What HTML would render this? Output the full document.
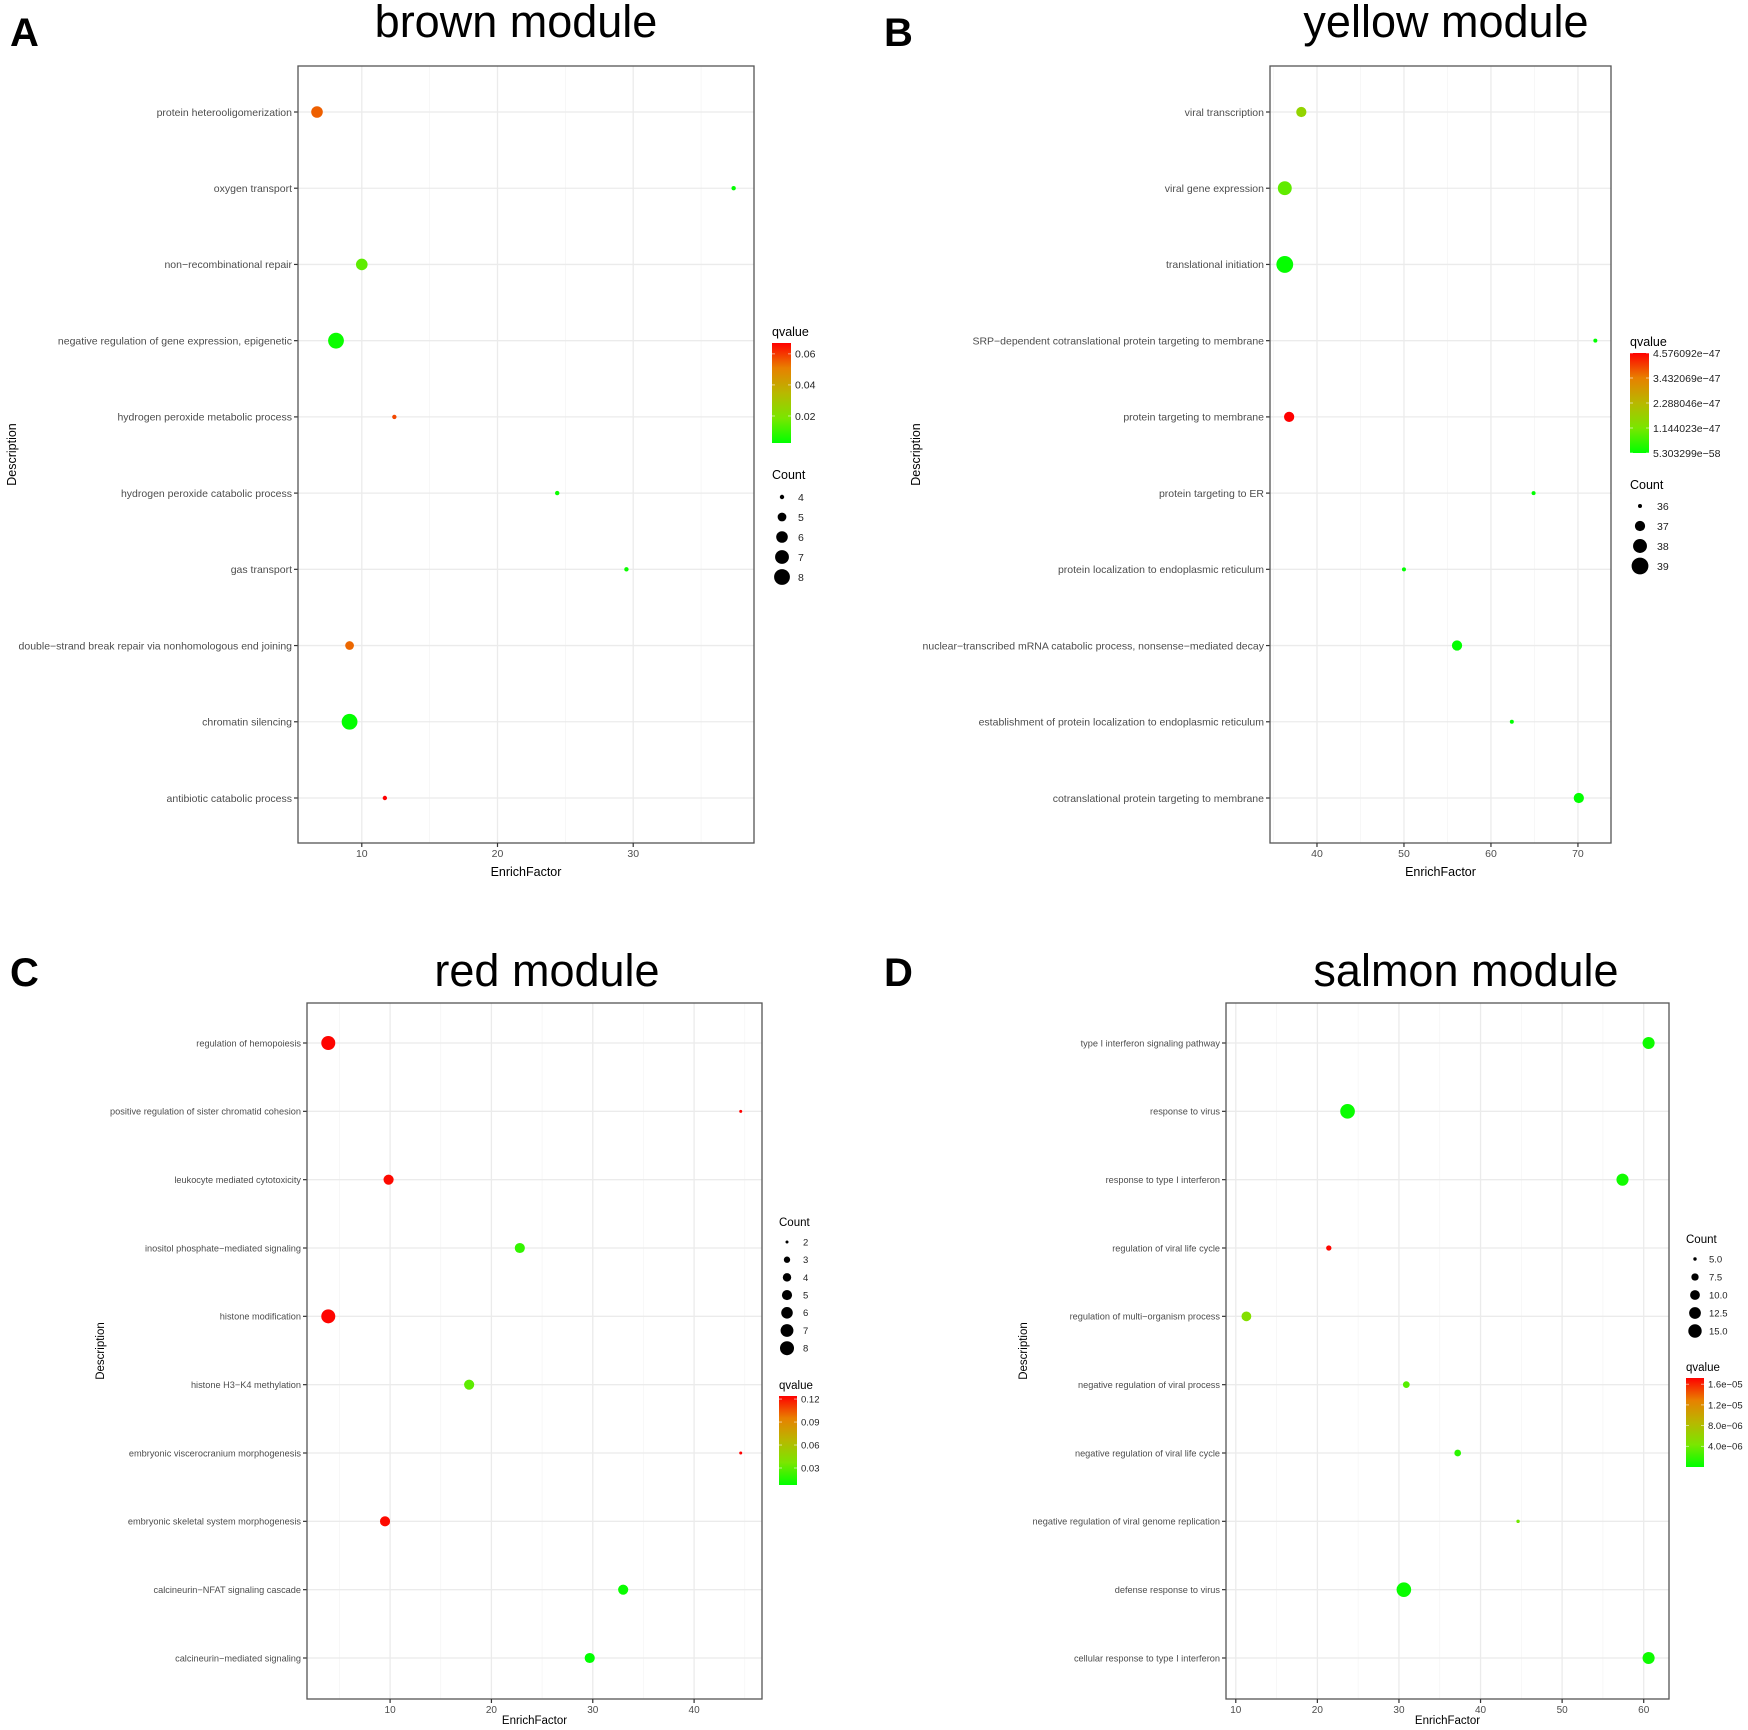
<!DOCTYPE html>
<html><head><meta charset="utf-8"><style>
html,body{margin:0;padding:0;background:#fff;}
svg{display:block;font-family:"Liberation Sans",Arial,sans-serif;}
</style></head><body>
<svg id="fig" width="1748" height="1730" viewBox="0 0 1748 1730" xmlns="http://www.w3.org/2000/svg"></svg>
<script>
// ---------- Panel A: brown module ----------
const aTerms = ["protein heterooligomerization","oxygen transport","non\u2212recombinational repair","negative regulation of gene expression, epigenetic","hydrogen peroxide metabolic process","hydrogen peroxide catabolic process","gas transport","double\u2212strand break repair via nonhomologous end joining","chromatin silencing","antibiotic catabolic process"];
const aEnrich = [6.7, 37.4, 10.0, 8.1, 12.4, 24.4, 29.5, 9.1, 9.1, 11.7];
const aCount = [6, 4, 6, 8, 4, 4, 4, 5, 8, 4];
const aQ = [0.055, 0.003, 0.015, 0.004, 0.058, 0.004, 0.004, 0.054, 0.003, 0.067];
const aXTicks = [10, 20, 30];
const aCountTicks = ["4","5","6","7","8"];
const aQTickVals = [0.06, 0.04, 0.02];
const aQTickLabels = ["0.06","0.04","0.02"];

// ---------- Panel B: yellow module ----------
const bTerms = ["viral transcription","viral gene expression","translational initiation","SRP\u2212dependent cotranslational protein targeting to membrane","protein targeting to membrane","protein targeting to ER","protein localization to endoplasmic reticulum","nuclear\u2212transcribed mRNA catabolic process, nonsense\u2212mediated decay","establishment of protein localization to endoplasmic reticulum","cotranslational protein targeting to membrane"];
const bEnrich = [38.2, 36.3, 36.3, 72.0, 36.8, 64.9, 50.0, 56.1, 62.4, 70.1];
const bCount = [37, 38, 39, 36, 37, 36, 36, 37, 36, 37];
const bQ = [1.6, 0.9, 0.05, 0.0, 4.576092, 0.0, 0.0, 0.02, 0.0, 0.02]; // x 1e-47
const bXTicks = [40, 50, 60, 70];
const bCountTicks = ["36","37","38","39"];
const bQTickVals = [4.576092, 3.432069, 2.288046, 1.144023, 0.0];
const bQTickLabels = ["4.576092e\u221247","3.432069e\u221247","2.288046e\u221247","1.144023e\u221247","5.303299e\u221258"];

// ---------- Panel C: red module ----------
const cTerms = ["regulation of hemopoiesis","positive regulation of sister chromatid cohesion","leukocyte mediated cytotoxicity","inositol phosphate\u2212mediated signaling","histone modification","histone H3\u2212K4 methylation","embryonic viscerocranium morphogenesis","embryonic skeletal system morphogenesis","calcineurin\u2212NFAT signaling cascade","calcineurin\u2212mediated signaling"];
const cEnrich = [3.9, 44.6, 9.85, 22.8, 3.9, 17.8, 44.6, 9.5, 33.0, 29.7];
const cCount = [8, 2, 5, 5, 8, 5, 2, 5, 5, 5];
const cQ = [0.123, 0.124, 0.122, 0.02, 0.123, 0.03, 0.124, 0.122, 0.01, 0.008];
const cXTicks = [10, 20, 30, 40];
const cCountTicks = ["2","3","4","5","6","7","8"];
const cQTickVals = [0.12, 0.09, 0.06, 0.03];
const cQTickLabels = ["0.12","0.09","0.06","0.03"];

// ---------- Panel D: salmon module ----------
const dTerms = ["type I interferon signaling pathway","response to virus","response to type I interferon","regulation of viral life cycle","regulation of multi\u2212organism process","negative regulation of viral process","negative regulation of viral life cycle","negative regulation of viral genome replication","defense response to virus","cellular response to type I interferon"];
const dEnrich = [60.6, 23.7, 57.4, 21.4, 11.3, 30.9, 37.2, 44.6, 30.6, 60.6];
const dCount = [13, 17, 13, 6, 10, 7, 7, 5, 17, 13];
const dQ = [0.5, 0.3, 0.6, 17.0, 5.0, 3.0, 1.5, 4.0, 0.3, 0.5]; // x 1e-6
const dXTicks = [10, 20, 30, 40, 50, 60];
const dCountTicks = ["5.0","7.5","10.0","12.5","15.0"];
const dQTickVals = [16, 12, 8, 4];
const dQTickLabels = ["1.6e\u221205","1.2e\u221205","8.0e\u221206","4.0e\u221206"];

const NS = "http://www.w3.org/2000/svg";
const svg = document.getElementById("fig");
function mk(tag, attrs, parent, txt){
  const e = document.createElementNS(NS, tag);
  for (const k in attrs) e.setAttribute(k, attrs[k]);
  if (txt !== undefined) e.textContent = txt;
  (parent || svg).appendChild(e);
  return e;
}
const stops = [[0,[0,255,0]],[0.25,[122,230,0]],[0.5,[184,184,0]],[0.75,[232,128,0]],[1,[255,0,0]]];
function colorAt(t){
  t = Math.max(0, Math.min(1, t));
  for (let i=1;i<stops.length;i++){
    if (t <= stops[i][0]){
      const a=stops[i-1], b=stops[i], f=(t-a[0])/(b[0]-a[0]);
      const c=a[1].map((v,j)=>Math.round(v+(b[1][j]-v)*f));
      return "rgb("+c.join(",")+")";
    }
  }
  return "rgb(255,0,0)";
}

function panel(cfg, terms, xs, counts, qs, xTicks, countTicks, qTickVals, qTickLabels){
  const g = mk("g", {});
  
  
  const X = v => cfg.left + (v - cfg.xmin) / (cfg.xmax - cfg.xmin) * (cfg.right - cfg.left);
  const Y = i => cfg.row0 + i * (cfg.row9 - cfg.row0) / (terms.length - 1);
  const R = c => Math.sqrt(Math.max(0.5, cfg.r2a + (c - cfg.ca) / (cfg.cb - cfg.ca) * (cfg.r2b - cfg.r2a)));
  const T = q => (q - cfg.qmin) / (cfg.qmax - cfg.qmin);

  const letter = mk("text", {x: cfg.letterX, y: cfg.letterY, "font-size": 40, "font-weight": "bold", fill: "#000"}, g, cfg.letter);
  
  
  const title = mk("text", {x: cfg.titleX, y: cfg.titleY, "font-size": 45, "text-anchor": "middle", fill: "#000"}, g, cfg.title);
  
  

  const minorStep = (xTicks[1] - xTicks[0]) / 2;
  let start = xTicks[0] - Math.ceil((xTicks[0]-cfg.xmin)/minorStep)*minorStep;
  for (let v = start; v <= cfg.xmax; v += minorStep){
    if (v < cfg.xmin) continue;
    const isMajor = xTicks.some(t => Math.abs(t - v) < 1e-6);
    const gl = mk("line", {x1: X(v), x2: X(v), y1: cfg.top, y2: cfg.bottom, stroke: isMajor ? "#ebebeb" : "#f4f4f4", "stroke-width": isMajor ? 1.3 : 0.7}, g);
    
    
  }
  terms.forEach((t, i) => {
    const hl = mk("line", {x1: cfg.left, x2: cfg.right, y1: Y(i), y2: Y(i), stroke: "#ebebeb", "stroke-width": 1.3}, g);
    
    
    const tk = mk("line", {x1: cfg.left - 4, x2: cfg.left, y1: Y(i), y2: Y(i), stroke: "#333", "stroke-width": 1.2}, g);
    
    
    const lb = mk("text", {x: cfg.left - 6, y: Y(i) + cfg.fs*0.36, "font-size": cfg.fs, "text-anchor": "end", fill: "#4d4d4d"}, g, t);
    
    
  });
  const box = mk("rect", {x: cfg.left, y: cfg.top, width: cfg.right - cfg.left, height: cfg.bottom - cfg.top, fill: "none", stroke: "#555", "stroke-width": 1.3}, g);
  
  
  xTicks.forEach(v => {
    const tk = mk("line", {x1: X(v), x2: X(v), y1: cfg.bottom, y2: cfg.bottom + 4, stroke: "#333", "stroke-width": 1.2}, g);
    
    
    const lb = mk("text", {x: X(v), y: cfg.bottom + 14, "font-size": cfg.xfs, "text-anchor": "middle", fill: "#4d4d4d"}, g, String(v));
    
    
  });
  const xt = mk("text", {x: (cfg.left + cfg.right)/2, y: cfg.xTitleY, "font-size": cfg.tfs, "text-anchor": "middle", fill: "#000"}, g, "EnrichFactor");
  
  
  const yc = (cfg.top + cfg.bottom)/2;
  const yt = mk("text", {x: cfg.yTitleX, y: yc, "font-size": cfg.tfs, "text-anchor": "middle", fill: "#000", transform: "rotate(-90 " + cfg.yTitleX + " " + yc + ")"}, g, "Description");
  
  

  terms.forEach((t, i) => {
    const c = mk("circle", {cx: X(xs[i]), cy: Y(i), r: R(counts[i]), fill: colorAt(T(qs[i]))}, g);
    
    
  });

  const qt = mk("text", {x: cfg.qx, y: cfg.qTitleY, "font-size": cfg.tfs, fill: "#000"}, g, "qvalue");
  
  
  const gid = "grad" + cfg.id;
  const defs = mk("defs", {}, g);
  const lg = mk("linearGradient", {id: gid, x1: 0, y1: 1, x2: 0, y2: 0}, defs);
  stops.forEach(s => mk("stop", {offset: s[0], "stop-color": colorAt(s[0])}, lg));
  const cb = mk("rect", {x: cfg.qx, y: cfg.qTop, width: cfg.qw, height: cfg.qBot - cfg.qTop, fill: "url(#" + gid + ")"}, g);
  
  
  qTickVals.forEach((v, k) => {
    const yy = cfg.qBot - T(v) * (cfg.qBot - cfg.qTop);
    mk("line", {x1: cfg.qx, x2: cfg.qx + 3, y1: yy, y2: yy, stroke: "#fff", "stroke-width": 0.8, opacity: 0.7}, g);
    mk("line", {x1: cfg.qx + cfg.qw - 3, x2: cfg.qx + cfg.qw, y1: yy, y2: yy, stroke: "#fff", "stroke-width": 0.8, opacity: 0.7}, g);
    const lb = mk("text", {x: cfg.qx + cfg.qw + 4, y: yy + cfg.lfs*0.36, "font-size": cfg.lfs, fill: "#222"}, g, qTickLabels[k]);
    
    
  });

  const ct = mk("text", {x: cfg.cx, y: cfg.cTitleY, "font-size": cfg.tfs, fill: "#000"}, g, "Count");
  
  
  countTicks.forEach((lab, k) => {
    const yy = cfg.cy0 + k * cfg.cdy;
    const cc = mk("circle", {cx: cfg.ccx, cy: yy, r: R(parseFloat(lab)), fill: "#000"}, g);
    
    
    const lb = mk("text", {x: cfg.clx, y: yy + cfg.lfs*0.36, "font-size": cfg.lfs, fill: "#222"}, g, lab);
    
    
  });
}

panel({id:"a", letter:"A", letterX:10, letterY:46, title:"brown module", titleX:516, titleY:37,
  left:298, right:754, top:66, bottom:843, xmin:5.3, xmax:38.9, row0:112, row9:798,
  fs:10.5, xfs:10.5, tfs:12.5, lfs:10.5, xTitleY:876, yTitleX:16,
  r2a:4.8, r2b:62.4, ca:4, cb:8, qmin:0.0026, qmax:0.067,
  qx:772, qw:19, qTop:343, qBot:443, qTitleY:336,
  cx:772, cTitleY:479, cy0:497, cdy:20, ccx:782, clx:798},
  aTerms, aEnrich, aCount, aQ, aXTicks, aCountTicks, aQTickVals, aQTickLabels);

panel({id:"b", letter:"B", letterX:884, letterY:46, title:"yellow module", titleX:1446, titleY:37,
  left:1270, right:1611, top:66, bottom:843, xmin:34.6, xmax:73.8, row0:112, row9:798,
  fs:10.5, xfs:10.5, tfs:12.5, lfs:10.5, xTitleY:876, yTitleX:920,
  r2a:4, r2b:70.6, ca:36, cb:39, qmin:0, qmax:4.576092,
  qx:1630, qw:19, qTop:353, qBot:453, qTitleY:346,
  cx:1630, cTitleY:489, cy0:506, cdy:20, ccx:1640, clx:1657},
  bTerms, bEnrich, bCount, bQ, bXTicks, bCountTicks, bQTickVals, bQTickLabels);

panel({id:"c", letter:"C", letterX:10, letterY:986, title:"red module", titleX:547, titleY:986,
  left:307, right:762, top:1003, bottom:1699, xmin:1.8, xmax:46.7, row0:1043, row9:1658,
  fs:9.2, xfs:10, tfs:11.5, lfs:9.5, xTitleY:1724, yTitleX:104,
  r2a:2.25, r2b:49, ca:2, cb:8, qmin:0.0078, qmax:0.124,
  qx:779, qw:18, qTop:1396, qBot:1485, qTitleY:1389,
  cx:779, cTitleY:1226, cy0:1242, cdy:17.7, ccx:787, clx:803},
  cTerms, cEnrich, cCount, cQ, cXTicks, cCountTicks, cQTickVals, cQTickLabels);

panel({id:"d", letter:"D", letterX:884, letterY:986, title:"salmon module", titleX:1466, titleY:986,
  left:1226, right:1669, top:1003, bottom:1699, xmin:8.8, xmax:63.1, row0:1043, row9:1658,
  fs:9.2, xfs:10, tfs:11.5, lfs:9.5, xTitleY:1724, yTitleX:1027,
  r2a:2.9, r2b:44.9, ca:5, cb:15, qmin:0, qmax:17.2,
  qx:1686, qw:18, qTop:1378, qBot:1467, qTitleY:1371,
  cx:1686, cTitleY:1243, cy0:1259, cdy:18, ccx:1695, clx:1709},
  dTerms, dEnrich, dCount, dQ, dXTicks, dCountTicks, dQTickVals, dQTickLabels);
</script>
</body></html>
